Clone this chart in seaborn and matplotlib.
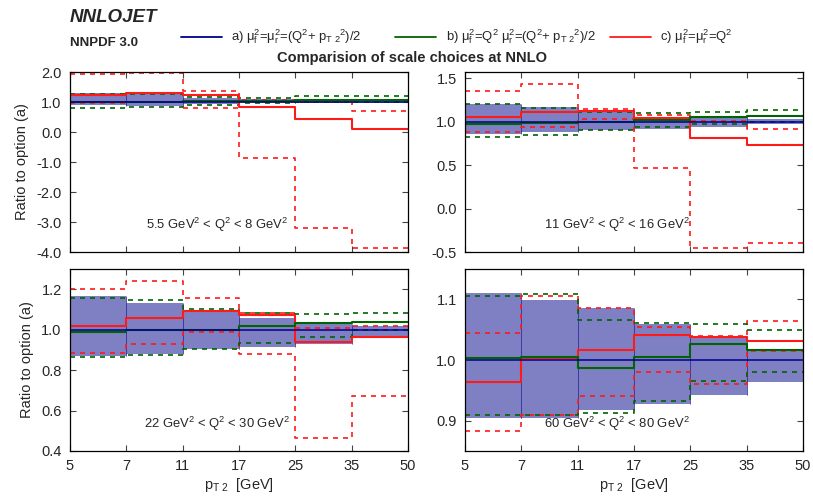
import numpy as np
import pandas as pd
import matplotlib
matplotlib.use("Agg")
import matplotlib.pyplot as plt
from matplotlib.lines import Line2D
import seaborn as sns

# ---------------- data ----------------
pt_edges = ["5", "7", "11", "17", "25", "35", "50"]
q2_labels = [
    "5.5 GeV$^2$ < Q$^2$ < 8 GeV$^2$",
    "11 GeV$^2$ < Q$^2$ < 16 GeV$^2$",
    "22 GeV$^2$ < Q$^2$ < 30 GeV$^2$",
    "60 GeV$^2$ < Q$^2$ < 80 GeV$^2$",
]
series_labels = [
    "a) μ$_f^2$=μ$_r^2$=(Q$^2$+ p$_{T\\ 2}$$^2$)/2",
    "b) μ$_f^2$=Q$^2$ μ$_r^2$=(Q$^2$+ p$_{T\\ 2}$$^2$)/2",
    "c) μ$_f^2$=μ$_r^2$=Q$^2$",
]

# panel 1 : 5.5 < Q2 < 8
a_cen_1 = [1.0, 1.0, 1.0, 1.0, 1.0, 1.0]
a_lo_1 = [0.90, 0.87, 0.93, 0.96, 0.97, 0.97]
a_hi_1 = [1.30, 1.29, 1.15, 1.10, 1.07, 1.05]
b_cen_1 = [1.00, 1.00, 1.02, 1.05, 1.08, 1.07]
b_lo_1 = [0.80, 0.85, 0.90, 0.98, 1.00, 1.00]
b_hi_1 = [1.28, 1.28, 1.17, 1.14, 1.21, 1.21]
c_cen_1 = [1.22, 1.29, 1.22, 0.85, 0.45, 0.10]
c_lo_1 = [0.97, 1.00, 0.80, -0.88, -3.20, -3.85]
c_hi_1 = [1.93, 1.96, 1.37, 1.08, 1.00, 0.70]

# panel 2 : 11 < Q2 < 16
a_cen_2 = [1.0, 1.0, 1.0, 1.0, 1.0, 1.0]
a_lo_2 = [0.86, 0.88, 0.90, 0.92, 0.94, 0.97]
a_hi_2 = [1.20, 1.17, 1.11, 1.05, 1.05, 1.03]
b_cen_2 = [0.97, 0.98, 1.00, 1.02, 1.05, 1.06]
b_lo_2 = [0.82, 0.84, 0.90, 0.935, 0.97, 1.00]
b_hi_2 = [1.20, 1.16, 1.11, 1.10, 1.11, 1.13]
c_cen_2 = [1.05, 1.115, 1.125, 1.04, 0.81, 0.73]
c_lo_2 = [0.88, 0.935, 1.03, 0.47, -0.45, -0.40]
c_hi_2 = [1.35, 1.43, 1.15, 1.08, 1.01, 0.92]

# panel 3 : 22 < Q2 < 30
a_cen_3 = [1.0, 1.0, 1.0, 1.0, 1.0, 1.0]
a_lo_3 = [0.87, 0.88, 0.905, 0.915, 0.93, 0.957]
a_hi_3 = [1.166, 1.133, 1.092, 1.06, 1.028, 1.018]
b_cen_3 = [0.99, 1.00, 1.00, 1.02, 1.031, 1.036]
b_lo_3 = [0.863, 0.874, 0.904, 0.934, 0.963, 1.00]
b_hi_3 = [1.155, 1.147, 1.10, 1.084, 1.077, 1.084]
c_cen_3 = [1.02, 1.06, 1.09, 1.072, 0.94, 0.965]
c_lo_3 = [0.886, 0.929, 0.99, 0.879, 0.462, 0.673]
c_hi_3 = [1.20, 1.242, 1.158, 1.08, 1.01, 1.02]

# panel 4 : 60 < Q2 < 80
a_cen_4 = [1.0, 1.0, 1.0, 1.0, 1.0, 1.0]
a_lo_4 = [0.904, 0.905, 0.918, 0.927, 0.943, 0.964]
a_hi_4 = [1.11, 1.099, 1.086, 1.06, 1.04, 1.016]
b_cen_4 = [1.003, 1.005, 0.986, 1.005, 1.026, 1.016]
b_lo_4 = [0.91, 0.909, 0.912, 0.933, 0.966, 0.981]
b_hi_4 = [1.106, 1.109, 1.066, 1.061, 1.059, 1.05]
c_cen_4 = [0.964, 1.003, 1.017, 1.041, 1.038, 1.032]
c_lo_4 = [0.883, 0.909, 0.94, 0.981, 0.96, 1.015]
c_hi_4 = [1.045, 1.106, 1.085, 1.055, 1.04, 1.065]

y_limits = [(-4.0, 2.0), (-0.5, 1.57), (0.4, 1.3), (0.85, 1.15)]
y_ticks = [
    [-4.0, -3.0, -2.0, -1.0, 0.0, 1.0, 2.0],
    [-0.5, 0.0, 0.5, 1.0, 1.5],
    [0.4, 0.6, 0.8, 1.0, 1.2],
    [0.9, 1.0, 1.1],
]

panels = [
    (a_cen_1, a_lo_1, a_hi_1, b_cen_1, b_lo_1, b_hi_1, c_cen_1, c_lo_1, c_hi_1),
    (a_cen_2, a_lo_2, a_hi_2, b_cen_2, b_lo_2, b_hi_2, c_cen_2, c_lo_2, c_hi_2),
    (a_cen_3, a_lo_3, a_hi_3, b_cen_3, b_lo_3, b_hi_3, c_cen_3, c_lo_3, c_hi_3),
    (a_cen_4, a_lo_4, a_hi_4, b_cen_4, b_lo_4, b_hi_4, c_cen_4, c_lo_4, c_hi_4),
]

# ---------------- style ----------------
sns.set_theme(style="white")
plt.rcParams["font.family"] = ["Liberation Sans", "DejaVu Sans"]
plt.rcParams["mathtext.fontset"] = "custom"
plt.rcParams["mathtext.rm"] = "Liberation Sans"
plt.rcParams["mathtext.it"] = "Liberation Sans"
plt.rcParams["mathtext.bf"] = "Liberation Sans:bold"

BLUE = "#00008b"
BAND = "#7f7fc4"
GREEN = "#006400"
RED = "#ff1a1a"
series_colors = [BLUE, GREEN, RED]

fig = plt.figure(figsize=(8.13, 4.97), dpi=100)
W, H = 813.0, 497.0
boxes = [(70, 72, 408, 252), (465, 72, 803, 252),
         (70, 269, 408, 451), (465, 269, 803, 451)]

x_idx = np.arange(len(pt_edges))


def ext(v):
    return list(v) + [v[-1]]


def step(ax, vals, color, ls, lw):
    df = pd.DataFrame({"x": x_idx, "y": ext(vals)})
    sns.lineplot(data=df, x="x", y="y", ax=ax, color=color, linestyle=ls,
                 linewidth=lw, drawstyle="steps-post", estimator=None,
                 errorbar=None, sort=True)


for i, (box, data) in enumerate(zip(boxes, panels)):
    x0, y0, x1, y1 = box
    ax = fig.add_axes([x0 / W, 1 - y1 / H, (x1 - x0) / W, (y1 - y0) / H])
    a_c, a_lo, a_hi, b_c, b_lo, b_hi, c_c, c_lo, c_hi = data

    # band of option (a), drawn bin by bin
    for k in range(len(a_lo)):
        ax.fill_between([x_idx[k], x_idx[k + 1]], a_lo[k], a_hi[k],
                        color=BAND, linewidth=0, zorder=1)
        ax.vlines([x_idx[k], x_idx[k + 1]], a_lo[k], a_hi[k],
                  color="#3a3aa0", linewidth=0.6, zorder=1.1)

    dash = (0, (3, 3))
    step(ax, c_lo, RED, dash, 1.2)
    step(ax, c_hi, RED, dash, 1.2)
    step(ax, b_lo, GREEN, dash, 1.2)
    step(ax, b_hi, GREEN, dash, 1.2)
    step(ax, c_c, RED, "-", 1.5)
    step(ax, b_c, GREEN, "-", 1.5)
    step(ax, a_c, BLUE, "-", 1.1)

    ax.set_xlim(0, len(pt_edges) - 1)
    ax.set_ylim(*y_limits[i])
    ax.set_yticks(y_ticks[i])
    ax.set_yticklabels([f"{t:.1f}" for t in y_ticks[i]])
    ax.set_xticks(x_idx)
    if i >= 2:
        ax.set_xticklabels(pt_edges)
        ax.set_xlabel("p$_{T\\ 2}$  [GeV]", fontsize=10.5, labelpad=2)
    else:
        ax.set_xticklabels([])
        ax.set_xlabel("")
    if i % 2 == 0:
        ax.set_ylabel("Ratio to option (a)", fontsize=10.5, labelpad=5)
    else:
        ax.set_ylabel("")

    ax.tick_params(axis="both", direction="in", length=4, width=0.8,
                   top=True, right=True, bottom=True, left=True,
                   labelsize=10.5, pad=6, color="#444444")
    for sp in ax.spines.values():
        sp.set_color("black")
        sp.set_linewidth(0.9)

    ax.text(0.435 if i % 2 == 0 else 0.45, 0.10, q2_labels[i], transform=ax.transAxes,
            ha="center", va="bottom", fontsize=9.4)

# header texts
fig.text(70 / W, 1 - 18 / H, "NNLOJET", fontsize=13.5, fontweight="bold",
         fontstyle="italic", ha="left", va="center")
fig.text(70 / W, 1 - 43 / H, "NNPDF 3.0", fontsize=9.5, fontweight="bold",
         ha="left", va="center")
fig.text(412 / W, 1 - 58 / H, "Comparision of scale choices at NNLO",
         fontsize=10.5, fontweight="bold", ha="center", va="center")

# key row (gnuplot-style fixed columns)
key_line_x = [(181, 222), (395, 436), (610, 651)]
key_text_x = [231, 446, 660]
key_y = 1 - 37 / H
for (lx0, lx1), tx, lab, col in zip(key_line_x, key_text_x, series_labels, series_colors):
    fig.add_artist(Line2D([lx0 / W, lx1 / W], [key_y, key_y], color=col,
                          lw=1.3, transform=fig.transFigure))
    fig.text(tx / W, key_y, lab, fontsize=9.4, ha="left", va="center")

fig.savefig("out.png", dpi=100)
